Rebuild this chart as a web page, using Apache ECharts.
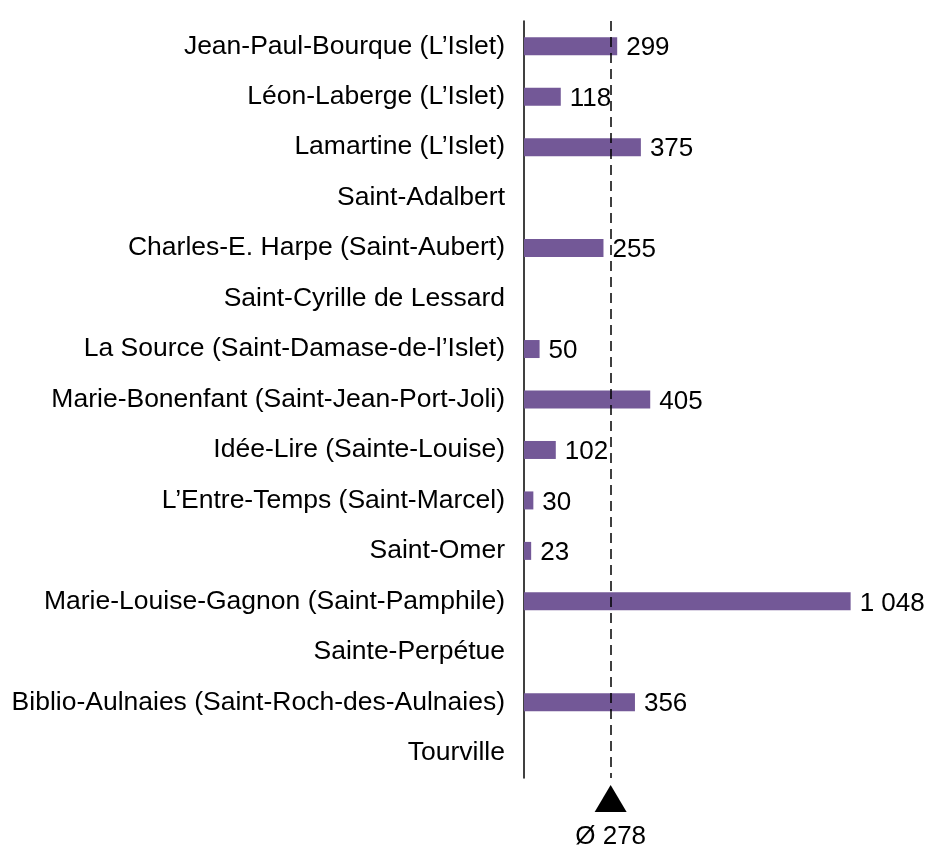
<!DOCTYPE html>
<html>
<head>
<meta charset="utf-8">
<script src="https://cdn.jsdelivr.net/npm/echarts@6/dist/echarts.min.js"></script>
<style>
  html, body { margin: 0; padding: 0; background: #fff; }
  #main { width: 927px; height: 851px; }
</style>
</head>
<body>
<div id="main"></div>
<script>
var libraries = [
  'Jean-Paul-Bourque (L\u2019Islet)',
  'Léon-Laberge (L\u2019Islet)',
  'Lamartine (L\u2019Islet)',
  'Saint-Adalbert',
  'Charles-E. Harpe (Saint-Aubert)',
  'Saint-Cyrille de Lessard',
  'La Source (Saint-Damase-de-l\u2019Islet)',
  'Marie-Bonenfant (Saint-Jean-Port-Joli)',
  'Idée-Lire (Sainte-Louise)',
  'L\u2019Entre-Temps (Saint-Marcel)',
  'Saint-Omer',
  'Marie-Louise-Gagnon (Saint-Pamphile)',
  'Sainte-Perpétue',
  'Biblio-Aulnaies (Saint-Roch-des-Aulnaies)',
  'Tourville'
];
var counts = [299, 118, 375, null, 255, null, 50, 405, 102, 30, 23, 1048, null, 356, null];
var average = 278;

var font = '"Liberation Sans", Arial, sans-serif';
var barColor = '#735897';
var xMax = 1200;
var plotWidth = 374;

function fmt(v) {
  return String(v).replace(/\B(?=(\d{3})+(?!\d))/g, ' ');
}

var chart = echarts.init(document.getElementById('main'));
var option = {
  animation: false,
  textStyle: { fontFamily: font, color: '#000' },
  grid: [
    { left: 524, top: 21, width: plotWidth, height: 757 },
    { left: 524, top: 785, width: plotWidth, height: 27 }
  ],
  xAxis: [
    { gridIndex: 0, type: 'value', min: 0, max: xMax, show: false },
    { gridIndex: 1, type: 'value', min: 0, max: xMax, show: false }
  ],
  yAxis: [
    {
      gridIndex: 0,
      type: 'category',
      inverse: true,
      data: libraries,
      axisLine: { show: true, lineStyle: { color: '#000', width: 1.5 } },
      axisTick: { show: false },
      splitLine: { show: false },
      axisLabel: {
        color: '#000',
        fontSize: 26.5,
        fontFamily: font,
        margin: 19,
        padding: [0, 0, 9, 0]
      }
    },
    { gridIndex: 1, type: 'value', min: 0, max: 1, show: false }
  ],
  series: [
    {
      type: 'bar',
      xAxisIndex: 0,
      yAxisIndex: 0,
      data: counts,
      barWidth: 18,
      itemStyle: { color: barColor },
      label: {
        show: true,
        position: 'right',
        distance: 9,
        offset: [0, 2],
        color: '#000',
        fontSize: 26,
        fontFamily: font,
        formatter: function (p) { return p.value == null ? '' : fmt(p.value); }
      },
      markLine: {
        silent: true,
        symbol: ['none', 'none'],
        label: { show: false },
        lineStyle: { color: '#000', type: [10, 6], width: 1.5 },
        data: [{ xAxis: average }]
      }
    },
    {
      type: 'scatter',
      xAxisIndex: 1,
      yAxisIndex: 1,
      symbol: 'triangle',
      symbolSize: [32, 27],
      itemStyle: { color: '#000', opacity: 1 },
      data: [[average, 0.5]],
      label: {
        show: true,
        position: 'bottom',
        distance: 12,
        color: '#000',
        fontSize: 26,
        fontFamily: font,
        formatter: function () { return 'Ø ' + average; }
      }
    }
  ]
};
chart.setOption(option);
</script>
</body>
</html>
